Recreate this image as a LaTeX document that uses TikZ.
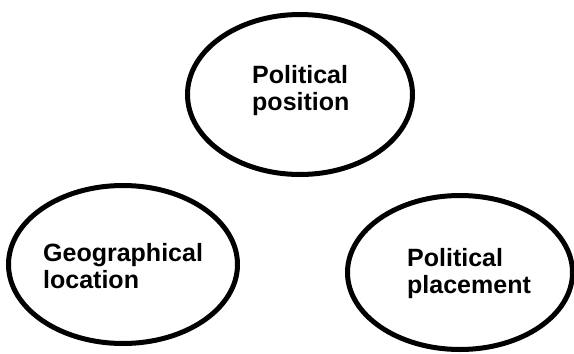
\documentclass[tikz,border=0pt]{standalone}
\usepackage{fontspec}
\setmainfont{Liberation Sans}
\usetikzlibrary{shapes.geometric}

\tikzset{
	bubble/.style={shape=ellipse, draw=black, line width=5pt, inner sep=0pt},
	label/.style={anchor=base west, inner sep=0pt, align=left, font=\fontsize{25}{27}\selectfont\bfseries}
}

\begin{document}
\begin{tikzpicture}[x=1pt, y=-1pt]
	\useasboundingbox (0,0) rectangle (574,354);

	\node[bubble, minimum width=225pt, minimum height=160pt] (E1) at (300, 94.5) {};
	\node[bubble, minimum width=229pt, minimum height=158pt] (E2) at (123, 264.5) {};
	\node[bubble, minimum width=225pt, minimum height=154pt] (E3) at (460, 272.5) {};

	% base anchor sits on the last line
	\node[label] (T1) at (252, 110) {Political\\position};
	\node[label] (T2) at (43, 288) {Geographical\\location};
	\node[label] (T3) at (407, 293) {Political\\placement};

\end{tikzpicture}
\end{document}
